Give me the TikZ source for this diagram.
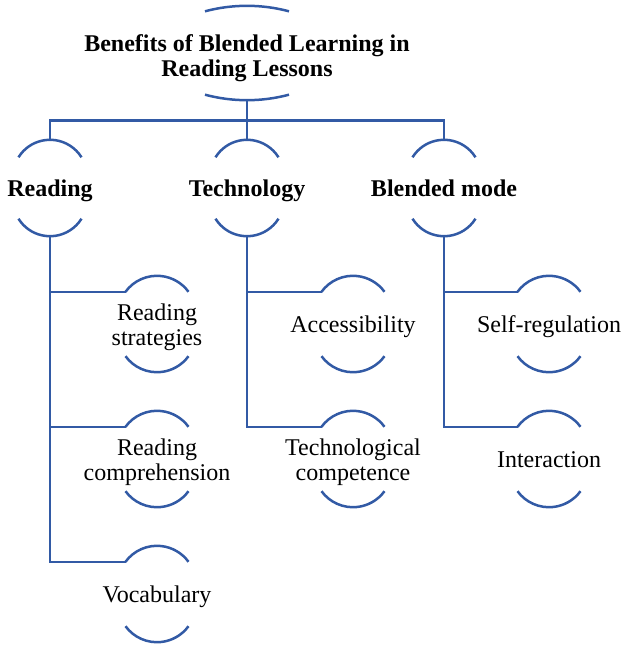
\documentclass[tikz,border=0pt]{standalone}
\usepackage{fontspec}
\setmainfont{Liberation Serif}
\usetikzlibrary{calc}
\definecolor{linkblue}{RGB}{50,90,165}

% draws the pair of brackets (top and bottom arcs) of a node:
% #1 node name, #2 half chord, #3 arc depth
\newcommand\capsarcs[3]{%
  \pgfmathsetmacro\capr{(#2*#2+#3*#3)/(2*#3)}%
  \pgfmathsetmacro\capt{asin(#2/\capr)}%
  \draw[link] ($(#1.north)+(-#2,#3)$) arc[start angle=-90-\capt, end angle=-90+\capt, radius=\capr];
  \draw[link] ($(#1.south)+(-#2,-#3)$) arc[start angle=90+\capt, end angle=90-\capt, radius=\capr];
}
% fixed line height and depth so that all labels sit on the same baseline
\newcommand\labelstrut{\rule[-6pt]{0pt}{28pt}}

\begin{document}
\begin{tikzpicture}[x=1pt,y=-1pt,
  link/.style={draw=linkblue, line width=2.5pt},
  box/.style={rectangle, inner sep=0pt, minimum width=60pt, minimum height=96pt,
              align=center, font=\fontsize{24}{25}\selectfont,
              execute at begin node=\labelstrut, execute at end node=\labelstrut},
  head/.style={box, font=\fontsize{24}{25}\selectfont\bfseries},
  % two-line labels: a taller strut sets the text block a little lower
  twoline/.style={execute at begin node={\rule[-6pt]{0pt}{#1}}},
  twoline/.default=54pt,
]
\useasboundingbox (0,0) rectangle (622,645);

% root
\node[head, twoline=58pt, minimum height=94pt] (r) at (247,53) {Benefits of Blended Learning in\\Reading Lessons};

% main categories
\node[head] (c1) at (50,188)  {Reading};
\node[head] (c2) at (247,188) {Technology};
\node[head] (c3) at (444,188) {Blended mode};

% sub-items
\node[box, twoline] (g11) at (157,324) {Reading\\strategies};
\node[box, twoline] (g12) at (157,459) {Reading\\comprehension};
\node[box] (g13) at (157,594) {Vocabulary};
\node[box] (g21) at (353,324) {Accessibility};
\node[box, twoline] (g22) at (353,459) {Technological\\competence};
\node[box] (g31) at (549,324) {Self-regulation};
\node[box] (g32) at (549,459) {Interaction};

% brackets around every label
\capsarcs{r}{42}{5.5}
\foreach \n in {c1,c2,c3}{\capsarcs{\n}{31.5}{17.5}}
\foreach \n in {g11,g12,g13,g21,g22,g31,g32}{\capsarcs{\n}{31.5}{16}}

% entry points of the sub-items (left end of their top arc)
\foreach \n in {g11,g12,g13,g21,g22,g31,g32}{
  \coordinate (\n-in) at ($(\n.north)+(-31.5,16)$);
}

% root to categories
\coordinate (bus) at (247,120.5);
\draw[link] (r.south) |- (c1.north |- bus) -- (c1.north);
\draw[link] (r.south) -- (c2.north);
\draw[link] (r.south) |- (c3.north |- bus) -- (c3.north);

% categories to sub-items
\draw[link] (c1.south) |- (g11-in);
\draw[link] (c1.south) |- (g12-in);
\draw[link] (c1.south) |- (g13-in);
\draw[link] (c2.south) |- (g21-in);
\draw[link] (c2.south) |- (g22-in);
\draw[link] (c3.south) |- (g31-in);
\draw[link] (c3.south) |- (g32-in);
\end{tikzpicture}
\end{document}
